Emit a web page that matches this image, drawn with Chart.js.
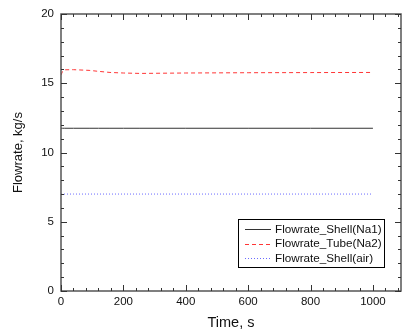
<!DOCTYPE html>
<html>
<head>
<meta charset="utf-8">
<script src="https://cdn.jsdelivr.net/npm/chart.js@4.4.0/dist/chart.umd.min.js"></script>
<style>
html, body { margin: 0; padding: 0; background: #fff; }
</style>
</head>
<body>
<canvas id="grafico-vazao" width="402" height="332"></canvas>
<script>
// dados
var tempo = [0, 5, 12, 40, 90, 120, 157, 200, 253, 400, 600, 800, 1000];
var vazaoShellNa1 = [11.75, 11.75, 11.75, 11.75, 11.75, 11.75, 11.75, 11.75, 11.75, 11.75, 11.75, 11.75, 11.75];
var vazaoTubeNa2 = [15.6, 15.85, 15.97, 15.98, 15.93, 15.86, 15.78, 15.74, 15.71, 15.74, 15.76, 15.77, 15.78];
var vazaoShellAir = [7.0, 7.0, 7.0, 7.0, 7.0, 7.0, 7.0, 7.0, 7.0, 7.0, 7.0, 7.0, 7.0];
var rotulos = ['Flowrate_Shell(Na1)', 'Flowrate_Tube(Na2)', 'Flowrate_Shell(air)'];
var ticksX = [0, 200, 400, 600, 800, 1000];
var ticksY = [0, 5, 10, 15, 20];

function pontos(valores) {
    return tempo.map(function (t, i) { return { x: t, y: valores[i] }; });
}

var fonte = 'Liberation Sans, Arial, sans-serif';

// moldura com ticks para dentro, nos quatro lados
var moldura = {
    id: 'moldura',
    afterDatasetsDraw: function (chart) {
        var c = chart.ctx, a = chart.chartArea;
        var sx = chart.scales.x, sy = chart.scales.y;
        c.save();
        c.strokeStyle = '#555';
        c.lineWidth = 1.5;
        c.strokeRect(a.left, a.top, a.right - a.left, a.bottom - a.top);
        c.lineWidth = 1;
        c.strokeStyle = '#333';
        function tick(x1, y1, x2, y2) {
            c.beginPath(); c.moveTo(x1, y1); c.lineTo(x2, y2); c.stroke();
        }
        var v, p, len;
        for (v = 0; v <= sx.max; v += 40) {
            p = Math.round(sx.getPixelForValue(v)) + 0.5;
            len = (v % 200 === 0) ? 6 : 3;
            tick(p, a.bottom, p, a.bottom - len);
            tick(p, a.top, p, a.top + len);
        }
        for (v = 0; v <= sy.max; v += 1) {
            p = Math.round(sy.getPixelForValue(v)) + 0.5;
            len = (v % 5 === 0) ? 6 : 3;
            tick(a.left, p, a.left + len, p);
            tick(a.right, p, a.right - len, p);
        }
        c.restore();
    }
};

// legenda com caixa, dentro da área do gráfico
var legendaCaixa = {
    id: 'legendaCaixa',
    afterDraw: function (chart) {
        var c = chart.ctx;
        var x0 = 238, y0 = 219, w = 146, h = 48;
        c.save();
        c.fillStyle = '#fff';
        c.fillRect(x0, y0, w, h);
        c.strokeStyle = '#000';
        c.lineWidth = 1;
        c.strokeRect(x0 + 0.5, y0 + 0.5, w, h);
        c.font = '11.7px ' + fonte;
        c.textBaseline = 'middle';
        chart.data.datasets.forEach(function (ds, i) {
            var y = y0 + 10 + i * 14.5;
            c.strokeStyle = ds.borderColor;
            c.lineWidth = ds.borderWidth;
            c.setLineDash(ds.borderDash || []);
            c.beginPath();
            c.moveTo(x0 + 7, Math.round(y) + 0.5);
            c.lineTo(x0 + 33, Math.round(y) + 0.5);
            c.stroke();
            c.setLineDash([]);
            c.fillStyle = '#111';
            c.fillText(ds.label, x0 + 37, y + 0.5);
        });
        c.restore();
    }
};

var ctx = document.getElementById('grafico-vazao');

var data = {
    datasets: [{
        label: rotulos[0],
        data: pontos(vazaoShellNa1),
        borderColor: '#333',
        borderWidth: 1,
        pointRadius: 0,
        fill: false
    }, {
        label: rotulos[1],
        data: pontos(vazaoTubeNa2),
        borderColor: '#ff3535',
        borderWidth: 1,
        borderDash: [4, 3],
        pointRadius: 0,
        fill: false
    }, {
        label: rotulos[2],
        data: pontos(vazaoShellAir),
        borderColor: '#6a6aff',
        borderWidth: 1,
        borderDash: [1, 2],
        pointRadius: 0,
        fill: false
    }]
};

var config = {
    type: 'line',
    data: data,
    options: {
        responsive: false,
        animation: false,
        layout: { padding: { top: 14, right: 1, left: 0, bottom: 0 } },
        plugins: {
            legend: { display: false },
            tooltip: { enabled: false }
        },
        scales: {
            x: {
                type: 'linear',
                min: 0,
                max: 1090,
                afterBuildTicks: function (scale) {
                    scale.ticks = ticksX.map(function (v) { return { value: v }; });
                },
                afterFit: function (scale) { scale.height = 41; },
                grid: { display: false, drawTicks: false },
                border: { display: false },
                ticks: {
                    color: '#111',
                    padding: 4,
                    maxRotation: 0,
                    font: { family: fonte, size: 11.5 },
                    callback: function (value) { return String(value); }
                },
                title: {
                    display: true,
                    text: 'Time, s',
                    color: '#111',
                    font: { family: fonte, size: 14.5 },
                    padding: { top: 0, bottom: 0 }
                }
            },
            y: {
                min: 0,
                max: 20,
                afterBuildTicks: function (scale) {
                    scale.ticks = ticksY.map(function (v) { return { value: v }; });
                },
                afterFit: function (scale) { scale.width = 61; },
                grid: { display: false, drawTicks: false },
                border: { display: false },
                ticks: {
                    color: '#111',
                    padding: 7,
                    font: { family: fonte, size: 11.5 }
                },
                title: {
                    display: true,
                    text: 'Flowrate, kg/s',
                    color: '#111',
                    font: { family: fonte, size: 13 },
                    padding: { top: 11, bottom: 0 }
                }
            }
        }
    },
    plugins: [moldura, legendaCaixa]
};

new Chart(ctx, config);
</script>
</body>
</html>
